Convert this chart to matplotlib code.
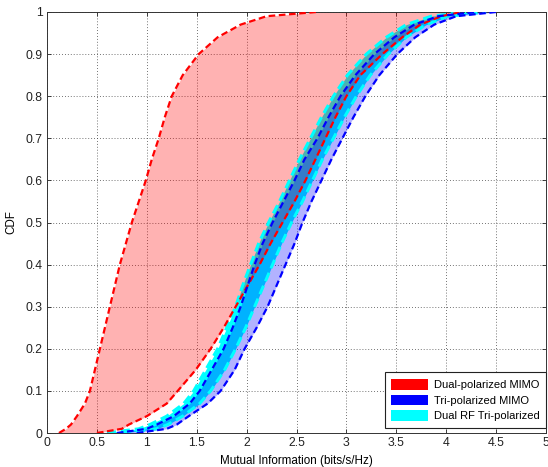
import numpy as np
import matplotlib
matplotlib.use("Agg")
import matplotlib.pyplot as plt
from matplotlib.patches import Patch

plt.rcParams['font.family'] = ['Liberation Sans', 'DejaVu Sans']

# CDF levels and the x position (bits/s/Hz) of each bound at that level
cdf = [0, 0.01, 0.02, 0.04, 0.07, 0.1, 0.15, 0.2, 0.25, 0.3, 0.35, 0.4, 0.45,
       0.5, 0.55, 0.6, 0.65, 0.7, 0.75, 0.8, 0.85, 0.9, 0.94, 0.97, 0.99, 1.0]

dual_lo = [0.12, 0.19, 0.24, 0.30, 0.38, 0.43, 0.48, 0.53, 0.58, 0.63, 0.68, 0.73, 0.79,
           0.85, 0.92, 0.99, 1.05, 1.12, 1.18, 1.25, 1.36, 1.52, 1.71, 1.94, 2.2, 2.7]
dual_hi = [0.5, 0.75, 0.82, 1.0, 1.2, 1.31, 1.49, 1.64, 1.77, 1.89, 2.01, 2.13, 2.24,
           2.36, 2.48, 2.59, 2.69, 2.79, 2.89, 3.0, 3.14, 3.36, 3.56, 3.74, 3.95, 4.15]

tri_lo = [0.7, 1.0, 1.1, 1.27, 1.43, 1.53, 1.65, 1.77, 1.86, 1.94, 2.01, 2.08, 2.16,
          2.26, 2.37, 2.48, 2.58, 2.71, 2.82, 2.94, 3.09, 3.28, 3.48, 3.68, 3.92, 4.3]
tri_hi = [0.9, 1.2, 1.3, 1.42, 1.61, 1.74, 1.88, 1.98, 2.1, 2.21, 2.3, 2.39, 2.48,
          2.56, 2.65, 2.75, 2.85, 2.96, 3.07, 3.19, 3.33, 3.51, 3.69, 3.88, 4.1, 4.5]

rf_lo = [0.6, 0.92, 1.03, 1.2, 1.37, 1.47, 1.59, 1.71, 1.8, 1.89, 1.96, 2.04, 2.12,
         2.22, 2.33, 2.43, 2.53, 2.64, 2.75, 2.87, 3.01, 3.2, 3.4, 3.6, 3.85, 4.2]
rf_hi = [0.75, 1.1, 1.21, 1.36, 1.53, 1.64, 1.78, 1.89, 1.99, 2.08, 2.17, 2.26, 2.35,
         2.45, 2.56, 2.66, 2.76, 2.87, 2.98, 3.1, 3.24, 3.42, 3.6, 3.8, 4.02, 4.4]

labels = ['Dual-polarized MIMO', 'Tri-polarized MIMO', 'Dual RF Tri-polarized']

fig = plt.figure(figsize=(5.48, 4.67), dpi=100)
ax = fig.add_axes([47/548, 1-433/467, 499/548, 421/467])

# fills: cyan solid first, then translucent red and blue over it
ax.fill_betweenx(cdf, rf_lo, rf_hi, color='cyan', lw=0, zorder=1)
ax.fill_betweenx(cdf, dual_lo, dual_hi, color='red', alpha=0.3, lw=0, zorder=2)
ax.fill_betweenx(cdf, tri_lo, tri_hi, color='blue', alpha=0.3, lw=0, zorder=3)

dash = (3, 1.6)
for xs in (rf_lo, rf_hi):
    ax.plot(xs, cdf, color='cyan', lw=2.2, dashes=dash, zorder=4)
for xs in (dual_lo, dual_hi):
    ax.plot(xs, cdf, color='red', lw=1.6, dashes=dash, zorder=5)
for xs in (tri_lo, tri_hi):
    ax.plot(xs, cdf, color='blue', lw=1.6, dashes=dash, zorder=6)

ax.set_xlim(0, 5)
ax.set_ylim(0, 1)
xt = np.arange(0, 5.01, 0.5)
yt = np.arange(0, 1.01, 0.1)
ax.set_xticks(xt)
ax.set_xticklabels(['0', '0.5', '1', '1.5', '2', '2.5', '3', '3.5', '4', '4.5', '5'])
ax.set_yticks(yt)
ax.set_yticklabels(['0', '0.1', '0.2', '0.3', '0.4', '0.5', '0.6', '0.7', '0.8', '0.9', '1'])
ax.tick_params(direction='in', length=3, width=0.6, top=True, right=True,
               labelsize=8.8, colors='#222222', pad=3)
ax.grid(True, color='#444444', linestyle=(0, (1, 2.5)), linewidth=0.6)
ax.set_axisbelow(True)
for s in ax.spines.values():
    s.set_linewidth(0.7)
    s.set_color('#333333')

ax.set_xlabel('Mutual Information (bits/s/Hz)', fontsize=8.4, labelpad=4)
ax.set_ylabel('CDF', fontsize=8.4, labelpad=6)

handles = [Patch(facecolor='red', edgecolor='none'),
           Patch(facecolor='blue', edgecolor='none'),
           Patch(facecolor='cyan', edgecolor='none')]
leg = ax.legend(handles, labels, loc='lower right', bbox_to_anchor=(1.0, 5/421),
                fontsize=8, fancybox=False, framealpha=1, edgecolor='#222222',
                handlelength=3.3, handleheight=1.1, borderaxespad=0,
                labelspacing=0.4, handletextpad=0.5, borderpad=0.6)
leg.get_frame().set_linewidth(0.8)

fig.savefig('out.png', dpi=100)
